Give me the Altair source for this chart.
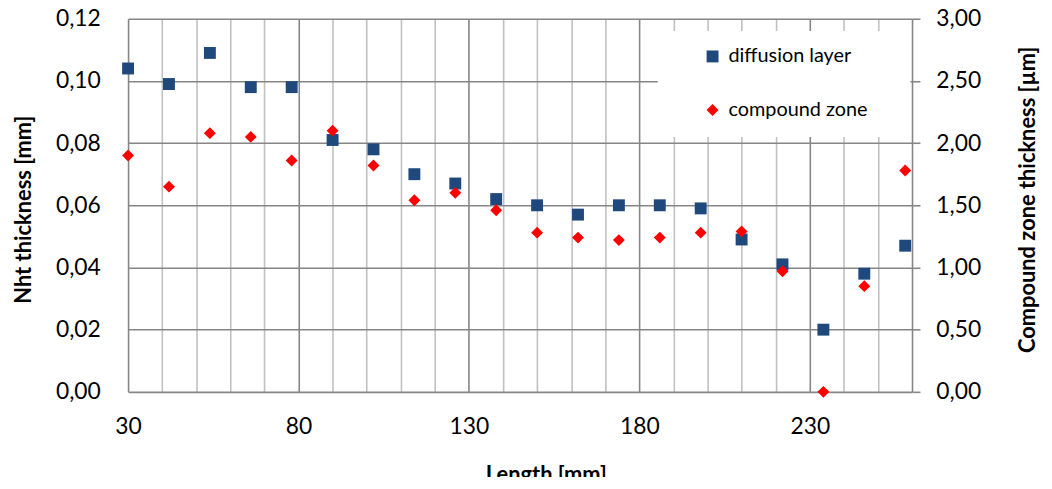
import altair as alt
import pandas as pd

# ---- data ----
length_mm = [30, 42, 54, 66, 78, 90, 102, 114, 126, 138,
             150, 162, 174, 186, 198, 210, 222, 234, 246, 258]
diffusion = [0.104, 0.099, 0.109, 0.098, 0.098, 0.081, 0.078, 0.070, 0.067, 0.062,
             0.060, 0.057, 0.060, 0.060, 0.059, 0.049, 0.041, 0.020, 0.038, 0.047]
compound = [1.90, 1.65, 2.08, 2.05, 1.86, 2.10, 1.82, 1.54, 1.60, 1.46,
            1.28, 1.24, 1.22, 1.24, 1.28, 1.29, 0.97, 0.00, 0.85, 1.78]
series_names = ["diffusion layer", "compound zone"]
series_colors = ["#1F497D", "#FF0000"]
series_shapes = ["square", "diamond"]

x_ticks = list(range(30, 261, 10))
x_major = [30, 80, 130, 180, 230]
y_left_ticks = [0, 0.02, 0.04, 0.06, 0.08, 0.10, 0.12]
y_right_ticks = [0, 0.5, 1.0, 1.5, 2.0, 2.5, 3.0]

df_d = pd.DataFrame({"length": length_mm, "value": diffusion, "series": series_names[0]})
df_c = pd.DataFrame({"length": length_mm, "value": compound, "series": series_names[1]})

FONT = "Lato"
GRID_DARK = "#868686"
GRID_LIGHT = "#C0C0C0"

major_test = "indexof([" + ",".join(str(v) for v in x_major) + ", 260], datum.value) >= 0"
label_test = "indexof([" + ",".join(str(v) for v in x_major) + "], datum.value) >= 0"

x_enc = alt.X(
    "length:Q",
    scale=alt.Scale(domain=[30, 260], nice=False, zero=False),
    axis=alt.Axis(
        values=x_ticks,
        title="Length [mm]",
        grid=True,
        gridColor={"condition": {"test": major_test, "value": GRID_DARK}, "value": GRID_LIGHT},
        gridWidth=1.6,
        domain=False,
        ticks=False,
        labelExpr=f"{label_test} ? datum.label : ''",
        labelOverlap=False,
        labelFlush=False,
        labelPadding=24,
        labelFontSize=23,
        titleFontSize=22,
        titleFontWeight="bold",
        titleX=421,
        titleY=90,
        titleBaseline="alphabetic",
        titleAnchor="start",
        titleAlign="center",
    ),
)

legend_cfg = dict(
    title=None,
    orient="none",
    legendX=579,
    legendY=28,
    padding=0,
    symbolSize=144,
    symbolStrokeWidth=0,
    labelFontSize=20,
    labelOffset=6,
    rowPadding=34,
    fillColor="transparent",
    strokeColor="transparent",
)

color_enc = alt.Color(
    "series:N",
    scale=alt.Scale(domain=series_names, range=series_colors),
    legend=alt.Legend(**legend_cfg),
)
shape_enc = alt.Shape(
    "series:N",
    scale=alt.Scale(domain=series_names, range=series_shapes),
    legend=alt.Legend(**legend_cfg),
)

left = alt.Chart(df_d).mark_point(filled=True, size=144, opacity=1).encode(
    x=x_enc,
    y=alt.Y(
        "value:Q",
        scale=alt.Scale(domain=[0, 0.12], nice=False),
        axis=alt.Axis(
            values=y_left_ticks,
            title="Nht thickness [mm]",
            orient="left",
            grid=True,
            gridColor=GRID_DARK,
            gridWidth=1.6,
            domain=False,
            ticks=False,
            labelPadding=28,
            labelFontSize=23,
            labelOverlap=False,
            labelFlush=False,
            labelExpr="replace(format(datum.value, '.2f'), '.', ',')",
            titleFontSize=22,
            titleFontWeight="bold",
            titleAngle=270,
            titleX=-98,
            titleY=192,
            titleBaseline="alphabetic",
            titleAlign="center",
        ),
    ),
    color=color_enc,
    shape=shape_enc,
)

legend_box = alt.Chart(df_d).mark_rect(fill="white", stroke=None).encode(
    x=alt.value(534), x2=alt.value(788), y=alt.value(13), y2=alt.value(119)
)

right = alt.Chart(df_c).mark_point(filled=True, size=144, opacity=1).encode(
    x=x_enc,
    y=alt.Y(
        "value:Q",
        scale=alt.Scale(domain=[0, 3], nice=False),
        axis=alt.Axis(
            values=y_right_ticks,
            title="Compound zone thickness [µm]",
            orient="right",
            grid=False,
            domain=False,
            ticks=True,
            tickSize=8,
            tickColor=GRID_DARK,
            tickWidth=1.6,
            labelPadding=16,
            labelFontSize=23,
            labelOverlap=False,
            labelFlush=False,
            labelExpr="replace(format(datum.value, '.2f'), '.', ',')",
            titleFontSize=22,
            titleFontWeight="bold",
            titleAngle=270,
            titleX=123,
            titleY=182,
            titleBaseline="alphabetic",
            titleAlign="center",
        ),
    ),
    color=color_enc,
    shape=shape_enc,
)

chart = (
    alt.layer(left, legend_box, right)
    .resolve_scale(y="independent")
    .properties(
        width=790,
        height=376,
        autosize=alt.AutoSizeParams(type="none"),
        padding={"left": 121, "top": 9, "right": 133, "bottom": 84},
        background="white",
    )
    .configure_view(stroke=None)
    .configure_axis(labelFont=FONT, titleFont=FONT, labelColor="#000000", titleColor="#000000")
    .configure_legend(labelFont=FONT, labelColor="#000000")
)

chart.save("out.html", embed_options={"renderer": "svg", "actions": False})
